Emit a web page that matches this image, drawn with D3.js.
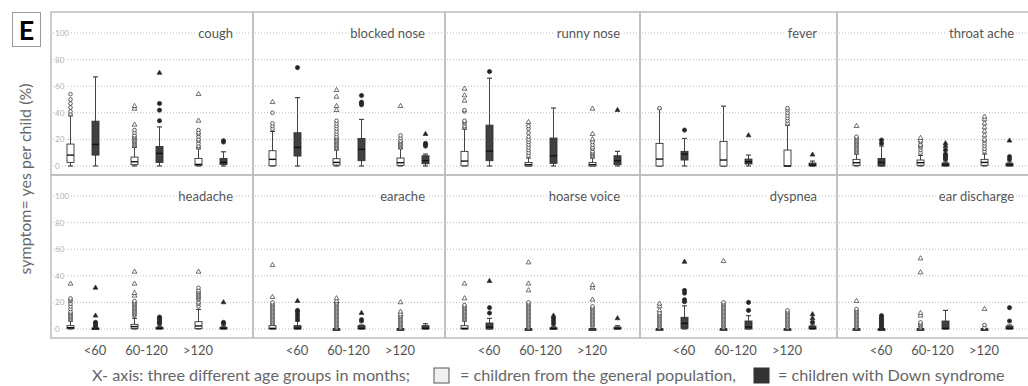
<!DOCTYPE html>
<html>
<head>
<meta charset="utf-8">
<script src="https://cdn.jsdelivr.net/npm/d3@7"></script>
<style>
  body { margin: 0; background: #fff; }
  text { font-family: Lato, "Open Sans", sans-serif; }
</style>
</head>
<body>
<div id="chart"></div>
<script>
// data (percent of "yes" days per child)
const symptoms = ['cough', 'blocked nose', 'runny nose', 'fever', 'throat ache',
  'headache', 'earache', 'hoarse voice', 'dyspnea', 'ear discharge'];
const ages = ['<60', '60-120', '>120'];
const groups = ['general population', 'Down syndrome'];
const yTicks = [0, 20, 40, 60, 80, 100];

// per symptom, 6 boxes: <60 GP, <60 DS, 60-120 GP, 60-120 DS, >120 GP, >120 DS
// [low whisker, q1, median, q3, high whisker]
const boxStats = [
  [[0,2.7,8.2,16.5,37.7],[0,8.2,16.2,33.7,67],[0,1,3.2,6.7,14],[0,2.7,9.5,14.7,29.4],[0,0.5,1.2,5.7,13],[0,1.2,2.7,5.7,10.7]],
  [[0,0.2,5,11.5,26],[0,7.5,14,25,51.4],[0,0.7,2.7,5.5,12],[0,4,12.5,20.7,35],[0,0.5,2.5,6,13],[0,1.7,4,7.7,9]],
  [[0,0.2,3.7,11,27.7],[0,4,11.2,30.7,66],[0,0,1,2.7,6],[0,2,7.7,21,43.6],[0,0,1,2.7,6],[0,1,4,7.7,11]],
  [[0,0,5.2,17,43],[0,4.5,9,11,20.7],[0,0,4.5,18.5,45],[0,1.5,3.2,5.2,8.2],[0,0,0,12,30.7],[0,0,0.7,2.2,3.7]],
  [[0,0.5,2.5,5,9],[0,0,2.7,5.7,15],[0,0.5,2.5,4.5,8],[0,0,1,2.2,3],[0,0.5,2.7,5,9],[0,0,1,2,3]],
  [[0,0.3,1,2.5,6],[0,0,0.3,0.8,1.5],[0,0.3,1.8,3.5,8],[0,0,0.5,1.3,2],[0,0.3,2.3,5.5,14.7],[0,0,0.5,1.3,2]],
  [[0,0,0.5,2.5,3],[0,0,0.5,2.5,6],[0,0,0,0,0],[0,0,0.5,2.5,3],[0,0,0,0,0],[0,0,0.5,2.5,4]],
  [[0,0,0.5,2.5,6],[0,0,1.5,4.5,8],[0,0,0,0,0],[0,0,0.3,1,2],[0,0,0,0,0],[0,0,0.3,1.5,2.5]],
  [[0,0,0,0,0],[0,0.5,4.2,8.8,17.4],[0,0,0,0,0],[0,0,1.5,6,10],[0,0,0,0,0],[0,0,0.5,2.2,3]],
  [[0,0,0,0,0],[0,0,0,0,0],[0,0,0,0,0],[0,0,0.5,6,14],[0,0,0,0,0],[0,0,0.5,2.2,3]]
];

// outliers (circles)
const outliers = [
  [[39,41,44,47,50,54],[],[15,16,17,18,19,20,21,22,23,25,27],[34,42,47],[14,15,17,19,20,22,24,25,27],[18,19]],
  [[28,30,32,40],[74],[13,14,15,16,17,18,19,20,21,22,24,26,28,30,32,34],[46,47,48,53],[14,15,16,17,18,19,21,23],[15,16,17]],
  [[29,30,32,33,34,41,42],[71],[8,10,12,14,16,18,20,22,25,28,30],[],[7,8,9,10,11,13,14,16,18],[]],
  [[43.5],[27],[],[],[32,34,36,38,40,42,43.5],[]],
  [[10,11,12,13,14,15,16,17,18,19,20,21,22],[17,19.5],[10,12,14,15,16,18,19],[5,6,7,8,9,12],[11,13,15,17,19,20],[5,7]],
  [[7,8,9,10,11,12,13,15,17,19,21,22,23],[2,3,4,5],[10,11,12,13,14,15,16,17,18,19,20,21],[4,5,6,7,8,9],[17,19,20,22,23,24,25,26,27,28,29,31],[4,5]],
  [[4,5,6,7,8,9,10,11,12,13,14,15,16,17,18,19,20],[7,9,11,13,14],[1,2,3,4,5,6,7,8,9,10,11,12,13,14,15,16,17,18,19,20],[6,7],[1,2,3,4,5,6,7,8,9,10],[]],
  [[7,8,9,10,11,12,13,14,15,16,17,18],[12,16],[1,2,3,4,5,6,7,8,9,10,11,12,13,14,15,16,17,18,19,20],[4,6,8],[2,3,4,5,6,7,8,9,10,11,12,13,14,15,16,17],[]],
  [[1,2,3,4,5,6,7,8,9,10,11,12],[20.5,22,27,29],[1,2,3,4,5,6,7,8,9,10,11,12,13,14,15,16,17,18,19,20],[14,20],[1,2,3,4,5,6,7,8,9,10,11,12,13,14],[5]],
  [[1,2,3,4,5,6,7,8,9,10,11,12,13,14,15],[1,2,3,4,5,6,7,8,9,10],[1,2,3,4,5],[],[1,3],[6,16]]
];

// extremes (triangles)
const extremes = [
  [[],[],[31,43,45],[70],[34,54],[]],
  [[48],[],[42,45,52,57],[],[45],[24]],
  [[49,53,58],[],[33],[],[20,24,43],[42]],
  [[],[],[],[23],[],[8.5]],
  [[30],[],[21],[15,17],[23,26,29,32,35,37],[19]],
  [[34],[10,31],[25,27,34,43],[],[43],[20]],
  [[24,48],[21],[21,23],[12],[11,13,20],[]],
  [[23,34],[36],[29,34,50],[10],[22,31,33],[8]],
  [[14,17,19],[50.5],[51],[],[],[8,11]],
  [[21],[],[10,12,42.5,53],[],[15],[]]
];

const width = 1028, height = 386;
const panelEdges = [51, 253, 445, 640, 837, 1034];
const rowEdges = [12, 175, 338];
const boxWidth = 7, capWidth = 5;
const fillColor = { 'general population': '#ffffff', 'Down syndrome': '#404040' };
const markColor = { 'general population': '#ffffff', 'Down syndrome': '#222222' };

const svg = d3.select('#chart')
  .append('svg')
  .attr('width', width)
  .attr('height', height);

const triangle = d3.symbol().type(d3.symbolTriangle).size(10);

symptoms.forEach((name, i) => {
  let col = i % 5, row = Math.floor(i / 5);
  let x0 = panelEdges[col], x1 = panelEdges[col + 1];
  let top = rowEdges[row], bottom = rowEdges[row + 1];

  let y = d3.scaleLinear().domain([0, 100]).range([top + 154, top + 21]);
  let xAge = d3.scalePoint().domain(ages).range([x0 + 32, x0 + 160]);
  let xGroup = d3.scalePoint().domain(groups).range([-12.5, 12.5]);

  let g = svg.append('g');

  // dotted grid
  g.selectAll('line.grid')
    .data(yTicks)
    .join('line')
    .attr('class', 'grid')
    .attr('x1', x0 + 2).attr('x2', Math.min(x1, width) - 2)
    .attr('y1', d => y(d)).attr('y2', d => y(d))
    .attr('stroke', '#b8b8b8')
    .attr('stroke-width', 1)
    .attr('stroke-dasharray', '1,2');

  // tick labels only in the first column
  if (col === 0) {
    g.selectAll('text.tick')
      .data(yTicks)
      .join('text')
      .attr('class', 'tick')
      .attr('x', x0 + 4)
      .attr('y', d => y(d) + 3)
      .attr('font-size', 8)
      .attr('fill', '#b0b0b0')
      .attr('stroke', '#fff').attr('stroke-width', 3)
      .attr('paint-order', 'stroke')
      .text(d => d);
  }

  // panel title
  g.append('text')
    .attr('x', x1 - 20)
    .attr('y', y(100) + 5)
    .attr('text-anchor', 'end')
    .attr('font-size', 13)
    .attr('fill', '#555')
    .attr('stroke', '#fff').attr('stroke-width', 5)
    .attr('paint-order', 'stroke')
    .text(name);

  let boxes = boxStats[i].map((s, j) => ({
    age: ages[Math.floor(j / 2)],
    group: groups[j % 2],
    lo: s[0], q1: s[1], med: s[2], q3: s[3], hi: s[4],
    out: outliers[i][j],
    ext: extremes[i][j]
  }));

  let bx = d => xAge(d.age) + xGroup(d.group);

  let b = g.selectAll('g.box')
    .data(boxes)
    .join('g')
    .attr('class', 'box');

  // whiskers
  b.append('line')
    .attr('x1', bx).attr('x2', bx)
    .attr('y1', d => y(d.lo)).attr('y2', d => y(d.hi))
    .attr('stroke', '#444').attr('stroke-width', 1);
  b.filter(d => d.hi > d.q3).append('line')
    .attr('x1', d => bx(d) - capWidth / 2).attr('x2', d => bx(d) + capWidth / 2)
    .attr('y1', d => y(d.hi)).attr('y2', d => y(d.hi))
    .attr('stroke', '#444').attr('stroke-width', 1.2);
  b.append('line')
    .attr('x1', d => bx(d) - capWidth / 2).attr('x2', d => bx(d) + capWidth / 2)
    .attr('y1', d => y(d.lo)).attr('y2', d => y(d.lo))
    .attr('stroke', '#444').attr('stroke-width', 1.2);

  // box
  b.append('rect')
    .attr('x', d => bx(d) - boxWidth / 2)
    .attr('width', boxWidth)
    .attr('y', d => y(d.q3))
    .attr('height', d => Math.max(y(d.q1) - y(d.q3), 1.5))
    .attr('fill', d => fillColor[d.group])
    .attr('stroke', '#333')
    .attr('stroke-width', 0.9);

  // median
  b.append('line')
    .attr('x1', d => bx(d) - boxWidth / 2).attr('x2', d => bx(d) + boxWidth / 2)
    .attr('y1', d => y(d.med)).attr('y2', d => y(d.med))
    .attr('stroke', '#111').attr('stroke-width', 1.4);

  // outliers
  b.each(function(d) {
    let sel = d3.select(this);
    sel.selectAll('circle')
      .data(d.out)
      .join('circle')
      .attr('cx', bx(d))
      .attr('cy', v => y(v))
      .attr('r', d.group === groups[1] ? 2.1 : 1.8)
      .attr('fill', markColor[d.group])
      .attr('stroke', '#333')
      .attr('stroke-width', 0.8);
    sel.selectAll('path.ext')
      .data(d.ext)
      .join('path')
      .attr('class', 'ext')
      .attr('transform', v => 'translate(' + bx(d) + ',' + y(v) + ')')
      .attr('d', triangle)
      .attr('fill', markColor[d.group])
      .attr('stroke', '#333')
      .attr('stroke-width', 0.7);
  });

  // panel frame
  g.append('rect')
    .attr('x', x0).attr('y', top)
    .attr('width', x1 - x0).attr('height', bottom - top)
    .attr('fill', 'none')
    .attr('stroke', '#bdbdbd')
    .attr('stroke-width', 1.5);

  // age labels under the bottom row
  if (row === 1) {
    let xLab = d3.scalePoint().domain(ages).range([x0 + 44, x0 + 147]);
    g.selectAll('text.age')
      .data(ages)
      .join('text')
      .attr('class', 'age')
      .attr('x', d => xLab(d))
      .attr('y', 355)
      .attr('text-anchor', 'middle')
      .attr('font-size', 13)
      .attr('fill', '#555')
      .text(d => d);
  }
});

// panel letter
svg.append('rect')
  .attr('x', 12.5).attr('y', 12.5)
  .attr('width', 28).attr('height', 34)
  .attr('fill', '#fff')
  .attr('stroke', '#999').attr('stroke-width', 1);
svg.append('text')
  .attr('x', 26.5).attr('y', 40)
  .attr('text-anchor', 'middle')
  .attr('font-size', 27)
  .attr('font-weight', 'bold')
  .attr('fill', '#000')
  .text('E');

// y axis title
svg.append('text')
  .attr('transform', 'translate(31,179) rotate(-90)')
  .attr('text-anchor', 'middle')
  .attr('font-size', 16)
  .attr('fill', '#666')
  .text('symptom= yes per child (%)');

// legend line
let legend = svg.append('g').attr('font-size', 16.2).attr('fill', '#666');
legend.append('text').attr('x', 92).attr('y', 381).text('X- axis: three different age groups in months;');
legend.append('rect').attr('x', 434).attr('y', 368).attr('width', 15).attr('height', 15)
  .attr('fill', '#f0f0f0').attr('stroke', '#555').attr('stroke-width', 1);
legend.append('text').attr('x', 460).attr('y', 381).text('= children from the general population,');
legend.append('rect').attr('x', 754).attr('y', 368).attr('width', 15).attr('height', 15)
  .attr('fill', '#333').attr('stroke', '#333');
legend.append('text').attr('x', 778).attr('y', 381).text('= children with Down syndrome');
</script>
</body>
</html>
